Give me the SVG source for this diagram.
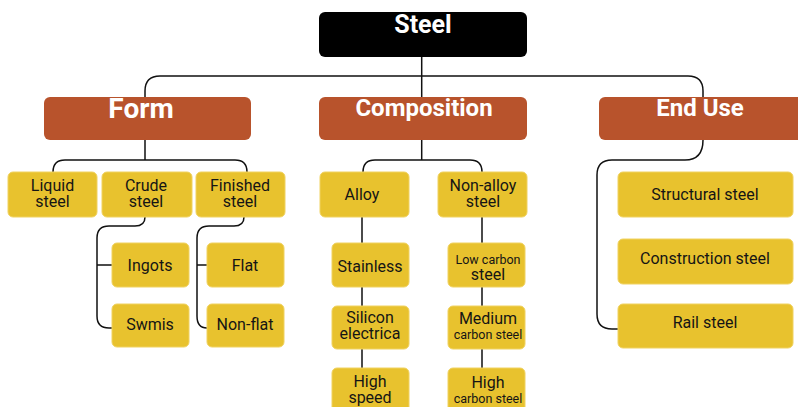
<svg xmlns="http://www.w3.org/2000/svg" width="798" height="407" viewBox="0 0 798 407">
<style>
.c{fill:none;stroke:#111;stroke-width:1.5}
.root{fill:#000}
.cat{fill:#B8532C}
.leaf{fill:#E8C22E;stroke:#F0D260;stroke-width:1}
text{font-family:Roboto,"Liberation Sans",sans-serif;text-anchor:middle}
.tw{fill:#fff;font-weight:bold}
.tl{fill:#151515;font-size:16px}
.ts{fill:#151515;font-size:12.5px}
</style>
<rect width="798" height="407" fill="#fff"/>
<g id="connectors">
<path class="c" d="M421.7 57 V160"/>
<path class="c" d="M145 160 V91 Q145 76 160 76 H688 Q703 76 703 91 V140 Q703 160 685 160 H612 Q597 160 597 175 V314 Q597 329 612 329 H618"/>
<path class="c" d="M53 172 Q53 160 65 160 H235 Q247 160 247 172"/>
<path class="c" d="M145 217 Q145 226 135 226 H109 Q97 226 97 238 V316 Q97 328 109 328 H112 M97 265 H112"/>
<path class="c" d="M244 217 Q244 226 234 226 H209 Q197 226 197 238 V316 Q197 328 207 328 M197 265 H207"/>
<path class="c" d="M363 172 Q363 160 375 160 H470 Q482 160 482 172"/>
<path class="c" d="M362 217 V368 M482 217 V368"/>
</g>
<g id="steel"><rect class="root" x="319" y="12" width="208" height="45" rx="6"/><text class="tw" x="423" y="33" font-size="25">Steel</text></g>
<g id="form"><rect class="cat" x="44" y="97" width="207" height="43" rx="6"/><text class="tw" x="141" y="118" font-size="28">Form</text></g>
<g id="composition"><rect class="cat" x="319" y="97" width="208" height="43" rx="6"/><text class="tw" x="424" y="116" font-size="24">Composition</text></g>
<g id="enduse"><rect class="cat" x="599" y="97" width="210" height="43" rx="6"/><text class="tw" x="700" y="116" font-size="24">End Use</text></g>
<g id="liquid"><rect class="leaf" x="8" y="172" width="89" height="45" rx="5"/><text class="tl" x="52.5" y="191">Liquid</text><text class="tl" x="52.5" y="207">steel</text></g>
<g id="crude"><rect class="leaf" x="102" y="172" width="90" height="45" rx="5"/><text class="tl" x="146" y="191">Crude</text><text class="tl" x="146" y="207">steel</text></g>
<g id="finished"><rect class="leaf" x="196" y="172" width="89" height="45" rx="5"/><text class="tl" x="240" y="191">Finished</text><text class="tl" x="240" y="207">steel</text></g>
<g id="ingots"><rect class="leaf" x="112" y="243" width="77" height="44" rx="5"/><text class="tl" x="150" y="271">Ingots</text></g>
<g id="swmis"><rect class="leaf" x="112" y="304" width="77" height="43" rx="5"/><text class="tl" x="150" y="330">Swmis</text></g>
<g id="flat"><rect class="leaf" x="207" y="243" width="77" height="44" rx="5"/><text class="tl" x="245" y="271">Flat</text></g>
<g id="nonflat"><rect class="leaf" x="207" y="304" width="77" height="43" rx="5"/><text class="tl" x="245" y="330">Non-flat</text></g>
<g id="alloy"><rect class="leaf" x="320" y="172" width="89" height="45" rx="5"/><text class="tl" x="362" y="200">Alloy</text></g>
<g id="nonalloy"><rect class="leaf" x="438" y="172" width="89" height="45" rx="5"/><text class="tl" x="483" y="191">Non-alloy</text><text class="tl" x="483" y="207">steel</text></g>
<g id="stainless"><rect class="leaf" x="332" y="243" width="77" height="44" rx="5"/><text class="tl" x="370" y="272">Stainless</text></g>
<g id="silicon"><rect class="leaf" x="332" y="306" width="77" height="43" rx="5"/><text class="tl" x="370" y="323">Silicon</text><text class="tl" x="370" y="339">electrica</text></g>
<g id="highspeed"><rect class="leaf" x="332" y="368" width="77" height="44" rx="5"/><text class="tl" x="370" y="387">High</text><text class="tl" x="370" y="403">speed</text></g>
<g id="lowcarbon"><rect class="leaf" x="448" y="243" width="77" height="44" rx="5"/><text class="ts" x="488" y="264" font-size="13">Low carbon</text><text class="tl" x="488" y="280">steel</text></g>
<g id="mediumcarbon"><rect class="leaf" x="448" y="306" width="77" height="43" rx="5"/><text class="tl" x="488" y="324">Medium</text><text class="ts" x="488" y="339">carbon steel</text></g>
<g id="highcarbon"><rect class="leaf" x="448" y="368" width="77" height="44" rx="5"/><text class="tl" x="488" y="388">High</text><text class="ts" x="488" y="403">carbon steel</text></g>
<g id="structural"><rect class="leaf" x="618" y="172" width="175" height="45" rx="5"/><text class="tl" x="705" y="200">Structural steel</text></g>
<g id="construction"><rect class="leaf" x="618" y="239" width="175" height="45" rx="5"/><text class="tl" x="705" y="264">Construction steel</text></g>
<g id="rail"><rect class="leaf" x="618" y="304" width="175" height="44" rx="5"/><text class="tl" x="705" y="328">Rail steel</text></g>
</svg>
